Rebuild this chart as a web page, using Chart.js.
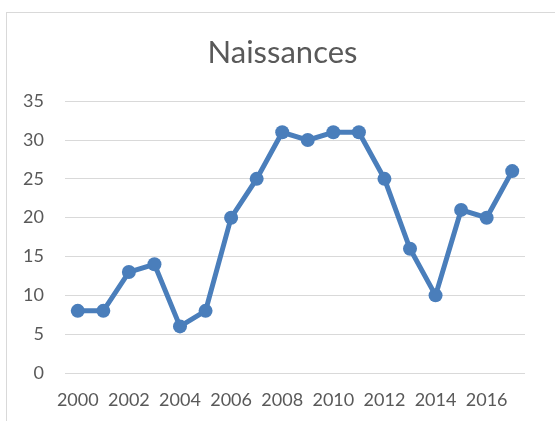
<!DOCTYPE html>
<html><head><meta charset="utf-8">
<script src="https://cdn.jsdelivr.net/npm/chart.js@4.4.0/dist/chart.umd.min.js"></script>
<style>
html,body{margin:0;padding:0;background:#fff;overflow:hidden;}
#wrap{position:relative;width:555px;height:421px;}
#frame{position:absolute;left:6px;top:12px;width:700px;height:600px;border:1px solid #d9d9d9;box-sizing:border-box;}
canvas{position:absolute;left:0;top:0;}
</style></head>
<body>
<div id="wrap"><div id="frame"></div><canvas id="c" width="555" height="421"></canvas></div>
<script>
const years = ['2000','2001','2002','2003','2004','2005','2006','2007','2008','2009','2010','2011','2012','2013','2014','2015','2016','2017'];
const naissances = [8,8,13,14,6,8,20,25,31,30,31,31,25,16,10,21,20,26];
const titleText = 'Naissances';
const yMin = 0, yMax = 35, yStep = 5;

const blue = '#4a7ebb';
const txt = '#595959';
new Chart(document.getElementById('c'), {
  type: 'line',
  data: { labels: years, datasets: [{
    label: titleText, data: naissances,
    borderColor: blue, backgroundColor: blue,
    borderWidth: 5, pointRadius: 7, pointBackgroundColor: blue, pointBorderWidth: 0,
    tension: 0, yAxisID: 'y'
  }]},
  options: {
    responsive: false, animation: false,
    layout: { padding: { left: 20, right: 10, top: 22, bottom: 0 } },
    plugins: {
      legend: { display: false }, tooltip: { enabled: false },
      title: { display: true, text: titleText, color: txt,
        font: { family: 'Lato', size: 31, weight: 'normal', lineHeight: 1.2 }, padding: { top: 12, bottom: 30 } }
    },
    scales: {
      x: { offset: true,
        grid: { display: false, drawTicks: false },
        border: { display: false },
        ticks: { autoSkip: false, maxRotation: 0, padding: 16, color: txt,
          font: { family: 'Lato', size: 18 },
          callback: function(v, i){ return i % 2 === 0 ? this.getLabelForValue(v) : ''; } },
        afterFit: function(s){ s.height = 48; }
      },
      y: { min: yMin, max: yMax,
        grid: { color: '#d9d9d9', lineWidth: 1, drawTicks: false },
        border: { display: false },
        ticks: { stepSize: yStep, padding: 21, color: txt, font: { family: 'Lato', size: 18 } },
        afterFit: function(s){ s.width = 45; }
      },
      y2: { position: 'right', min: yMin, max: yMax,
        grid: { display: false, drawTicks: false },
        border: { display: false },
        ticks: { display: false },
        afterFit: function(s){ s.width = 20; }
      }
    }
  }
});
</script>
</body></html>
